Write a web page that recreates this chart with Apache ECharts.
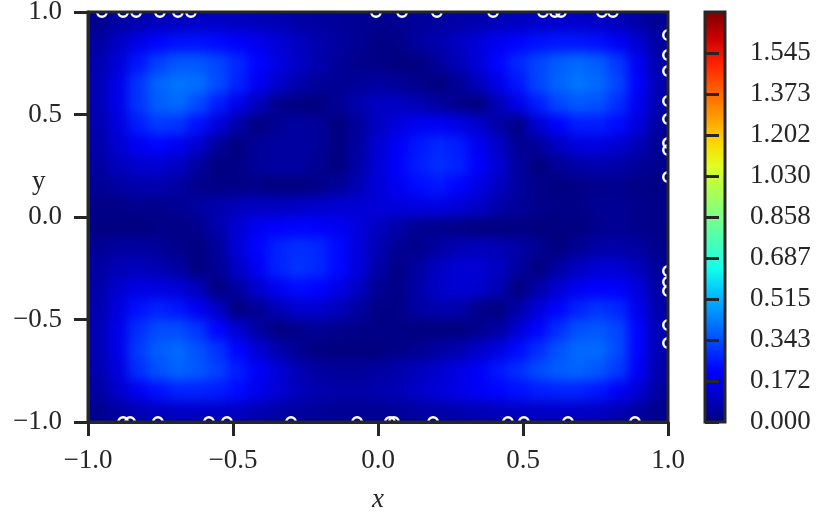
<!DOCTYPE html>
<html><head><meta charset="utf-8">
<style>html,body{margin:0;padding:0;background:#fff}#c{width:831px;height:514px}</style>
<script src="https://cdn.jsdelivr.net/npm/echarts@6/dist/echarts.min.js"></script>
</head><body><div id="c"></div>
<script>
// Field magnitude, top row first
const rows = [
[.02,.05,.07,.09,.10,.11,.11,.10,.09,.08,.06,.05,.04,.03,.02,.03,.04,.05,.06,.07,.09,.10,.11,.12,.12,.11,.09,.06,.03],
[.05,.10,.17,.22,.24,.24,.23,.21,.18,.14,.10,.07,.05,.03,.01,.01,.05,.07,.10,.14,.19,.22,.24,.25,.25,.24,.20,.13,.05],
[.07,.14,.25,.32,.36,.36,.33,.28,.22,.16,.11,.07,.04,.02,.01,.00,.00,.04,.08,.14,.22,.28,.33,.37,.39,.37,.31,.19,.07],
[.08,.17,.30,.38,.41,.40,.34,.27,.19,.12,.07,.04,.03,.04,.05,.04,.02,.00,.03,.09,.17,.25,.33,.38,.41,.39,.33,.21,.08],
[.08,.17,.30,.37,.39,.34,.26,.17,.09,.02,.00,.00,.03,.07,.10,.10,.08,.05,.02,.00,.08,.17,.26,.33,.36,.35,.29,.19,.07],
[.07,.15,.26,.31,.30,.24,.15,.06,.00,.03,.05,.04,.00,.04,.10,.15,.19,.20,.17,.12,.06,.01,.13,.21,.26,.26,.23,.15,.05],
[.06,.12,.19,.22,.19,.12,.04,.00,.04,.05,.05,.04,.00,.05,.13,.20,.25,.28,.26,.19,.11,.03,.04,.10,.15,.16,.13,.08,.03],
[.05,.09,.12,.13,.10,.05,.00,.01,.04,.05,.05,.03,.00,.06,.14,.21,.26,.29,.27,.21,.13,.05,.00,.03,.06,.07,.06,.04,.02],
[.03,.05,.07,.07,.05,.02,.01,.01,.01,.00,.00,.01,.04,.08,.14,.19,.23,.25,.22,.16,.10,.05,.02,.00,.01,.02,.02,.01,.01],
[.01,.01,.02,.02,.03,.05,.07,.09,.10,.10,.11,.12,.13,.13,.14,.15,.16,.16,.14,.11,.07,.04,.02,.01,.01,.03,.03,.02,.01],
[.00,.00,.00,.01,.01,.02,.07,.13,.19,.21,.22,.21,.19,.15,.10,.06,.03,.02,.01,.00,.00,.00,.00,.00,.00,.02,.03,.02,.01],
[.03,.05,.05,.04,.02,.00,.04,.14,.22,.27,.29,.28,.23,.15,.08,.03,.02,.05,.08,.09,.08,.06,.03,.00,.03,.06,.06,.05,.02],
[.05,.08,.09,.08,.05,.00,.03,.11,.20,.27,.30,.28,.23,.15,.06,.01,.05,.10,.13,.13,.10,.05,.00,.05,.10,.13,.13,.09,.04],
[.06,.12,.16,.16,.14,.09,.00,.05,.12,.19,.23,.22,.17,.10,.03,.01,.06,.11,.13,.12,.08,.00,.06,.13,.19,.21,.21,.15,.05],
[.07,.15,.24,.27,.25,.19,.11,.00,.03,.08,.12,.12,.09,.05,.01,.01,.05,.07,.07,.02,.00,.06,.14,.22,.27,.30,.28,.18,.07],
[.08,.17,.29,.34,.34,.30,.22,.13,.05,.00,.02,.03,.02,.01,.01,.01,.00,.00,.00,.02,.05,.13,.22,.29,.35,.36,.33,.22,.08],
[.08,.17,.31,.37,.39,.35,.30,.22,.14,.07,.03,.00,.00,.00,.00,.01,.03,.05,.07,.11,.16,.23,.29,.35,.39,.39,.34,.22,.08],
[.07,.15,.29,.35,.38,.36,.32,.26,.20,.14,.08,.05,.04,.04,.05,.07,.09,.12,.16,.20,.25,.29,.34,.37,.38,.36,.31,.20,.07],
[.05,.11,.19,.24,.27,.27,.26,.23,.18,.13,.09,.07,.06,.06,.07,.08,.11,.14,.17,.20,.22,.24,.26,.27,.27,.25,.20,.13,.05],
[.02,.05,.08,.10,.11,.11,.11,.10,.08,.06,.05,.04,.03,.03,.03,.04,.05,.06,.07,.08,.09,.10,.11,.11,.11,.10,.08,.05,.02]
];
// White open circles on the boundary
const topX = [-0.952,-0.879,-0.834,-0.752,-0.69,-0.645,-0.007,0.083,0.203,0.397,0.569,0.61,0.631,0.772,0.81];
const bottomX = [-0.879,-0.855,-0.759,-0.583,-0.521,-0.3,-0.072,0.041,0.055,0.19,0.448,0.503,0.655,0.886];
const rightY = [0.888,0.79,0.712,0.566,0.478,0.361,0.327,0.195,-0.263,-0.317,-0.361,-0.527,-0.615];
const barTicks = [0,0.1717,0.3433,0.515,0.6867,0.8583,1.03,1.2017,1.3733,1.545];
const barMax = 1.717;
const jet = ['#000080','#0000c7','#0000ff','#0040ff','#0080ff','#00bfff','#14ffeb','#47ffb8','#7bff85','#adff52','#e0ff1f','#ffd100','#ff9700','#ff5c00','#ff2100','#c80000','#800000'];

const ink = '#262626', font = '"Liberation Serif", serif', fs = 27, frameLevel = 2;
const nRows = rows.length, nCols = rows[0].length;
const cells = [];
rows.forEach((r, ri) => r.forEach((v, ci) => cells.push([ci, nRows - 1 - ri, v])));
const fmt = v => (v < 0 ? '\u2212' : '') + Math.abs(v).toFixed(1);
const tick = { show: true, length: 14, inside: false, lineStyle: { color: ink, width: 3 } };
const line = { show: true, onZero: false, lineStyle: { color: ink, width: 3 } };
const label = (m, f) => ({ show: true, margin: m, color: ink, fontFamily: font, fontSize: fs, formatter: f, hideOverlap: false, showMinLabel: true, showMaxLabel: true });
const lowered = { padding: [10, 0, 0, 0], verticalAlign: 'middle' };

const chart = echarts.init(document.getElementById('c'), null, { renderer: 'canvas' });
chart.setOption({
  animation: false,
  backgroundColor: '#fff',
  grid: [
    { left: 88, top: 12, width: 580, height: 410, show: true, zlevel: frameLevel, z: 6, backgroundColor: 'transparent', borderColor: ink, borderWidth: 3, outerBoundsMode: 'none' },
    { left: 705, top: 12, width: 20, height: 410, show: true, zlevel: frameLevel, z: 6, backgroundColor: 'transparent', borderColor: ink, borderWidth: 3, outerBoundsMode: 'none' }
  ],
  xAxis: [
    { type: 'category', gridIndex: 0, show: false, data: Array.from({ length: nCols }, (_, i) => i) },
    { type: 'value', gridIndex: 0, min: -1, max: 1, interval: 0.5, position: 'bottom', zlevel: frameLevel, z: 6,
      axisLine: line, axisTick: tick, splitLine: { show: false }, axisLabel: label(25, fmt),
      name: 'x', nameLocation: 'middle', nameGap: 64,
      nameTextStyle: { color: ink, fontFamily: font, fontSize: fs, fontStyle: 'italic' } },
    { type: 'value', gridIndex: 1, min: 0, max: 1, show: false }
  ],
  yAxis: [
    { type: 'category', gridIndex: 0, show: false, data: Array.from({ length: nRows }, (_, i) => i) },
    { type: 'value', gridIndex: 0, min: -1, max: 1, interval: 0.5, position: 'left', zlevel: frameLevel, z: 6,
      axisLine: line, axisTick: tick, splitLine: { show: false }, axisLabel: Object.assign(label(26, fmt), lowered) },
    { type: 'value', gridIndex: 1, min: 0, max: barMax, position: 'right', zlevel: frameLevel, z: 6,
      axisLine: { show: false }, splitLine: { show: false },
      axisTick: Object.assign({}, tick, { customValues: barTicks }),
      axisLabel: Object.assign(label(25, v => v.toFixed(3)), lowered, { customValues: barTicks }) }
  ],
  visualMap: {
    type: 'continuous', seriesIndex: 0, min: 0, max: barMax, show: true, calculable: false, zlevel: frameLevel, z: 4,
    left: 705, top: 12, itemWidth: 20, itemHeight: 410, padding: 0, text: null, showLabel: false,
    hoverLink: false, inRange: { color: jet }
  },
  graphic: [
    { type: 'text', zlevel: frameLevel, x: 32, y: 168, style: { text: 'y', fill: ink, font: fs + 'px ' + font } },
    // Opaque backing of the heatmap layer, so softening does not fade the field at the frame
    { type: 'rect', zlevel: 1, z: -10, silent: true, shape: { x: 0, y: 0, width: 831, height: 514 }, style: { fill: '#00009a' } }
  ],
  series: [
    { type: 'heatmap', xAxisIndex: 0, yAxisIndex: 0, data: cells, zlevel: 1, z: 2, progressive: 0, itemStyle: { borderWidth: 0 } },
    ...[topX.map(x => [x, 1]), bottomX.map(x => [x, -1]), rightY.map(y => [1, y])].map(d => ({
      type: 'scatter', xAxisIndex: 1, yAxisIndex: 1, data: d, clip: true, symbol: 'circle', symbolSize: 9.5, zlevel: frameLevel, z: 4,
      itemStyle: { color: 'rgba(0,0,0,0)', borderColor: '#fff', borderWidth: 2.5, opacity: 1 }
    }))
  ]
});
// The reference field is smoothly shaded: soften the heatmap's own layer and keep it inside the plot frame.
const layer = chart.getDom().querySelector('[data-zr-dom-id="zr_1"]');
if (layer) {
  layer.style.filter = 'blur(6px)';
  layer.style.clipPath = 'inset(12px 163px 92px 88px)';
}
</script></body></html>
